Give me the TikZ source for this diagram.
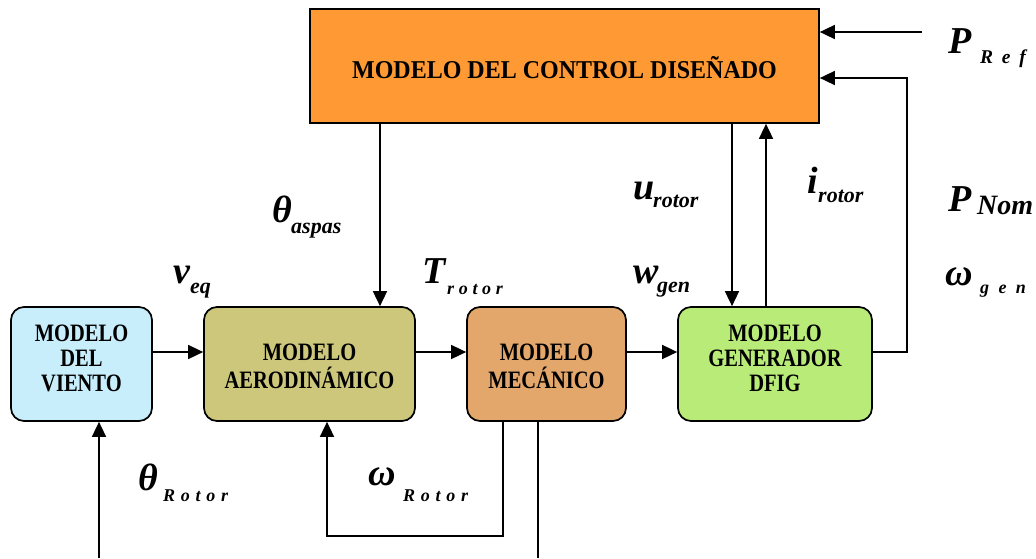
\documentclass[tikz,border=0pt]{standalone}
\usepackage{fontspec}
\usepackage{graphicx}
\setmainfont{Liberation Serif}
\usetikzlibrary{arrows.meta,calc}
\definecolor{ctrlorange}{RGB}{255,153,51}
\definecolor{windblue}{RGB}{200,238,252}
\definecolor{aeroolive}{RGB}{204,199,122}
\definecolor{mechtan}{RGB}{227,166,107}
\definecolor{gengreen}{RGB}{185,235,120}
% tall block lettering: centred lines, stretched vertically
\newcommand\blocklines[2]{\scalebox{1}[#1]{\begin{tabular}{@{}c@{}}#2\end{tabular}}}
\begin{document}
\begin{tikzpicture}[x=1pt,y=-1pt,
  blk/.style={draw=black, line width=1.7pt, rounded corners=13pt, inner sep=0pt,
    minimum height=114pt},
  blktext/.style={inner sep=0pt, font=\fontsize{20.5}{20.5}\selectfont\bfseries},
  conn/.style={line width=1.6pt},
  arr/.style={conn,-{Triangle[length=15pt,width=14pt]}},
  sym/.style={inner sep=0pt, anchor=base west, font=\fontsize{38}{40}\selectfont\bfseries\itshape},
  sub/.style={inner sep=0pt, anchor=base west, font=\fontsize{22}{24}\selectfont\bfseries\itshape},
  subsp/.style={inner sep=0pt, anchor=base west,
    font=\fontsize{18}{20}\selectfont\bfseries\itshape\addfontfeature{LetterSpace=#1}},
  subsp/.default=30]
\useasboundingbox (0,0) rectangle (1036,558);
\clip (0,0) rectangle (1036,558);

% blocks
\node[blk, fill=ctrlorange, rounded corners=0pt, minimum width=509pt] (ctrl) at (564.5,66) {};
\node[blk, fill=windblue, minimum width=141pt] (wind) at (81.5,364) {};
\node[blk, fill=aeroolive, minimum width=211pt] (aero) at (309.5,364) {};
\node[blk, fill=mechtan, minimum width=159pt] (mech) at (546.5,364) {};
\node[blk, fill=gengreen, minimum width=194pt] (gen) at (775,364) {};

% block captions
\node[inner sep=0pt, font=\fontsize{24}{24}\selectfont\bfseries] (ctrl-t) at (564.5,71)
  {\blocklines{1.07}{MODELO DEL CONTROL DISEÑADO}};
\node[blktext] (wind-t) at (81.5,361) {\blocklines{1.22}{MODELO\\DEL\\VIENTO}};
\node[blktext] (aero-t) at (309.5,369.5) {\blocklines{1.22}{MODELO\\AERODINÁMICO}};
\node[blktext] (mech-t) at (546.5,369.5) {\blocklines{1.22}{MODELO\\MECÁNICO}};
\node[blktext] (gen-t) at (775,361) {\blocklines{1.22}{MODELO\\GENERADOR\\DFIG}};

% reference points for connector routing
\coordinate (row) at (0,352);
\coordinate (xpitch) at (380,0);
\coordinate (xu) at (732,0);
\coordinate (xi) at (766,0);
\coordinate (pref-in) at (922,32);
\coordinate (gen-turn) at (907,352);
\coordinate (fb-top) at (907,78);
\coordinate (fb-r) at (503,536);
\coordinate (fb-l) at (327,536);
\coordinate (wind-in) at (99,558);
\coordinate (mech-out) at (538,558);

% forward chain
\draw[arr] (wind.east |- row) -- (aero.west |- row);
\draw[arr] (aero.east |- row) -- (mech.west |- row);
\draw[arr] (mech.east |- row) -- (gen.west |- row);

% control signals
\draw[arr] (ctrl.south -| xpitch) -- (aero.north -| xpitch);
\draw[arr] (ctrl.south -| xu) -- (gen.north -| xu);
\draw[arr] (gen.north -| xi) -- (ctrl.south -| xi);
\draw[arr] (pref-in) -- (ctrl.east |- pref-in);
\draw[arr] (gen.east |- row) -- (gen-turn) -- (fb-top) -- (ctrl.east |- fb-top);

% rotor speed feedback and outputs
\draw[arr] (mech.south -| fb-r) -- (fb-r) -- (fb-l) -- (aero.south -| fb-l);
\draw[conn] (mech.south -| mech-out) -- (mech-out);
\draw[arr] (wind-in) -- (wind.south -| wind-in);

% signal labels
\node[sym] (pref) at (948,53) {P};
\node[inner sep=0pt, anchor=base west, font=\fontsize{19.5}{20}\selectfont\bfseries\itshape\addfontfeature{LetterSpace=45}] (pref-s) at (980,63) {Ref};
\node[sym] (pnom) at (948,211) {P};
\node[sub, font=\fontsize{28}{30}\selectfont\bfseries\itshape] (pnom-s) at (977,214) {Nom};
\node[sym] (wgen) at (945,285) {ω};
\node[subsp=52] (wgen-s) at (980,293) {gen};

\node[sym] (thasp) at (272,222) {θ};
\node[sub] (thasp-s) at (291,233) {aspas};
\node[sym] (veq) at (173,283) {v};
\node[sub] (veq-s) at (190,293) {eq};
\node[sym] (trot) at (422,283) {T};
\node[subsp=26] (trot-s) at (447,294) {rotor};
\node[sym] (urot) at (633,199) {u};
\node[sub] (urot-s) at (653,207) {rotor};
\node[sym] (irot) at (807,193) {i};
\node[sub] (irot-s) at (818,202) {rotor};
\node[sym] (wg) at (633,283) {w};
\node[sub] (wg-s) at (657,292) {gen};
\node[sym] (throt) at (138,490) {θ};
\node[subsp=32] (throt-s) at (163,501) {Rotor};
\node[sym] (omrot) at (368,485) {ω};
\node[subsp=32] (omrot-s) at (403,501) {Rotor};
\end{tikzpicture}
\end{document}
